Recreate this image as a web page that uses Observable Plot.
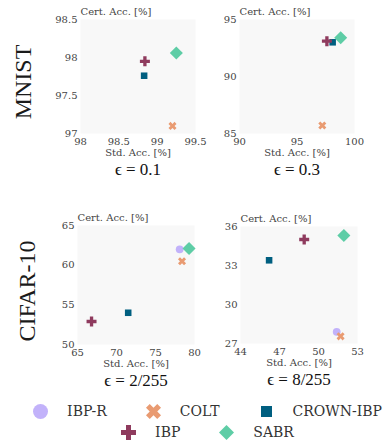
<!DOCTYPE html>
<html><head><meta charset="utf-8">
<script src="https://cdn.jsdelivr.net/npm/d3@7"></script>
<script src="https://cdn.jsdelivr.net/npm/@observablehq/plot@0.6"></script>
<style>
body{margin:0;width:385px;height:443px;position:relative;overflow:hidden;background:#fff;font-family:'DejaVu Serif',serif;}
.abs{position:absolute;}
.rowlab{position:absolute;font-family:'Liberation Serif',serif;font-size:24px;color:#1a1a1a;transform:translate(-50%,-50%) rotate(-90deg);white-space:nowrap;}
.lrow{position:absolute;left:0;width:412px;display:flex;justify-content:center;align-items:center;height:21px;}
.item{display:flex;align-items:center;margin:0 18px;}
.item svg{display:block;}
.item span{margin-left:17px;font-family:'DejaVu Serif',serif;font-size:14px;color:#333;white-space:nowrap;}
</style></head><body>
<script>
const methods = ["IBP-R", "COLT", "CROWN-IBP", "IBP", "SABR"];
const colors = ["#c2b2fa", "#e99b72", "#005f80", "#8f3b5e", "#5ecda6"];
const symbols = ["circle", "cross", "square", "cross", "square"];
const rotations = [0, 45, 0, 0, 45];
const dotSizes = [3.9, 3.6, 3.7, 4.2, 5.2];
const legendSizes = [7.5, 6.7, 6.2, 6.3, 6];

const rowLabels = ["MNIST", "CIFAR-10"];
const epsLabels = ["ϵ = 0.1", "ϵ = 0.3", "ϵ = 2/255", "ϵ = 8/255"];

// values per method (order of `methods`), null = not reported
const mnist01Std  = [null, 99.2, 98.83, 98.84, 99.25];
const mnist01Cert = [null, 97.1, 97.76, 97.95, 98.06];
const mnist03Std  = [null, 97.2, 98.1, 97.6, 98.8];
const mnist03Cert = [null, 85.7, 93.0, 93.1, 93.4];
const cifar2Std   = [78.1, 78.4, 71.5, 66.8, 79.3];
const cifar2Cert  = [62.0, 60.5, 54.0, 52.9, 62.1];
const cifar8Std   = [51.4, 51.7, 46.2, 48.9, 51.95];
const cifar8Cert  = [27.9, 27.55, 33.4, 35.0, 35.3];

const mnist01XTicks = [98, 98.5, 99, 99.5], mnist01YTicks = [97, 97.5, 98, 98.5];
const mnist03XTicks = [90, 95, 100], mnist03YTicks = [85, 90, 95];
const cifar2XTicks = [65, 70, 75, 80], cifar2YTicks = [50, 55, 60, 65];
const cifar8XTicks = [44, 47, 50, 53], cifar8YTicks = [27, 30, 33, 36];

const panels = [
  {left: 80, right: 195, top: 19, bottom: 133, std: mnist01Std, cert: mnist01Cert, xt: mnist01XTicks, yt: mnist01YTicks, eps: epsLabels[0]},
  {left: 239, right: 354, top: 19, bottom: 133, std: mnist03Std, cert: mnist03Cert, xt: mnist03XTicks, yt: mnist03YTicks, eps: epsLabels[1]},
  {left: 77, right: 194, top: 225, bottom: 344, std: cifar2Std, cert: cifar2Cert, xt: cifar2XTicks, yt: cifar2YTicks, eps: epsLabels[2]},
  {left: 240, right: 357, top: 226, bottom: 343, std: cifar8Std, cert: cifar8Cert, xt: cifar8XTicks, yt: cifar8YTicks, eps: epsLabels[3]}
];

const drawOrder = [0, 1, 2, 3, 4];
const serif = "'DejaVu Serif', serif";

panels.forEach(p => {
  const mL = 34, mR = 14, mT = 24, mB = 50;
  const w = p.right - p.left + mL + mR, h = p.bottom - p.top + mT + mB;
  const marks = [Plot.frame({fill: "#f8f8f8", stroke: null})];
  drawOrder.forEach(i => {
    if (p.std[i] == null) return;
    marks.push(Plot.dot([{x: p.std[i], y: p.cert[i]}], {
      x: "x", y: "y", symbol: symbols[i], fill: colors[i], r: dotSizes[i], rotate: rotations[i]
    }));
  });
  marks.push(
    Plot.axisX({ticks: p.xt, tickSize: 0, tickPadding: 4, label: null, tickFormat: d => String(d), fontFamily: serif, fontSize: 10}),
    Plot.axisY({ticks: p.yt, tickSize: 0, tickPadding: 3, label: null, tickFormat: d => String(d), fontFamily: serif, fontSize: 10}),
    Plot.text(["Cert. Acc. [%]"], {frameAnchor: "top-left", lineAnchor: "middle", dy: -7.5, textAnchor: "start", fill: "#444", fontFamily: serif, fontSize: 10}),
    Plot.text(["Std. Acc. [%]"], {frameAnchor: "bottom", lineAnchor: "middle", dy: 19, fill: "#444", fontFamily: serif, fontSize: 10}),
    Plot.text([p.eps], {frameAnchor: "bottom", lineAnchor: "middle", dy: 36, fontSize: 17, fontFamily: "'Liberation Serif', 'DejaVu Serif', serif", fill: "#111"})
  );
  const svg = Plot.plot({
    width: w, height: h,
    marginLeft: mL, marginRight: mR, marginTop: mT, marginBottom: mB,
    x: {domain: [p.xt[0], p.xt[p.xt.length - 1]]},
    y: {domain: [p.yt[0], p.yt[p.yt.length - 1]]},
    style: {fontFamily: serif, fontSize: "10px", color: "#444", background: "transparent", overflow: "visible"},
    marks
  });
  svg.classList.add("abs");
  svg.style.left = (p.left - mL) + "px";
  svg.style.top = (p.top - mT) + "px";
  document.body.appendChild(svg);
});

const rowPos = [[23, 82], [27, 291]];
rowLabels.forEach((t, i) => {
  const d = document.createElement("div");
  d.className = "rowlab";
  d.textContent = t;
  d.style.left = rowPos[i][0] + "px";
  d.style.top = rowPos[i][1] + "px";
  document.body.appendChild(d);
});

const legendRows = [[0, 1, 2], [3, 4]];
const legendTops = [400.5, 421.5];
legendRows.forEach((row, ri) => {
  const r = document.createElement("div");
  r.className = "lrow";
  r.style.top = legendTops[ri] + "px";
  row.forEach(i => {
    const it = document.createElement("div");
    it.className = "item";
    const m = Plot.plot({
      width: 20, height: 20, margin: 0,
      style: {background: "transparent", overflow: "visible"},
      marks: [Plot.dot([methods[i]], {frameAnchor: "middle", symbol: symbols[i], fill: colors[i], r: legendSizes[i], rotate: rotations[i]})]
    });
    it.appendChild(m);
    const s = document.createElement("span");
    s.textContent = methods[i];
    it.appendChild(s);
    r.appendChild(it);
  });
  document.body.appendChild(r);
});
</script>
</body></html>
